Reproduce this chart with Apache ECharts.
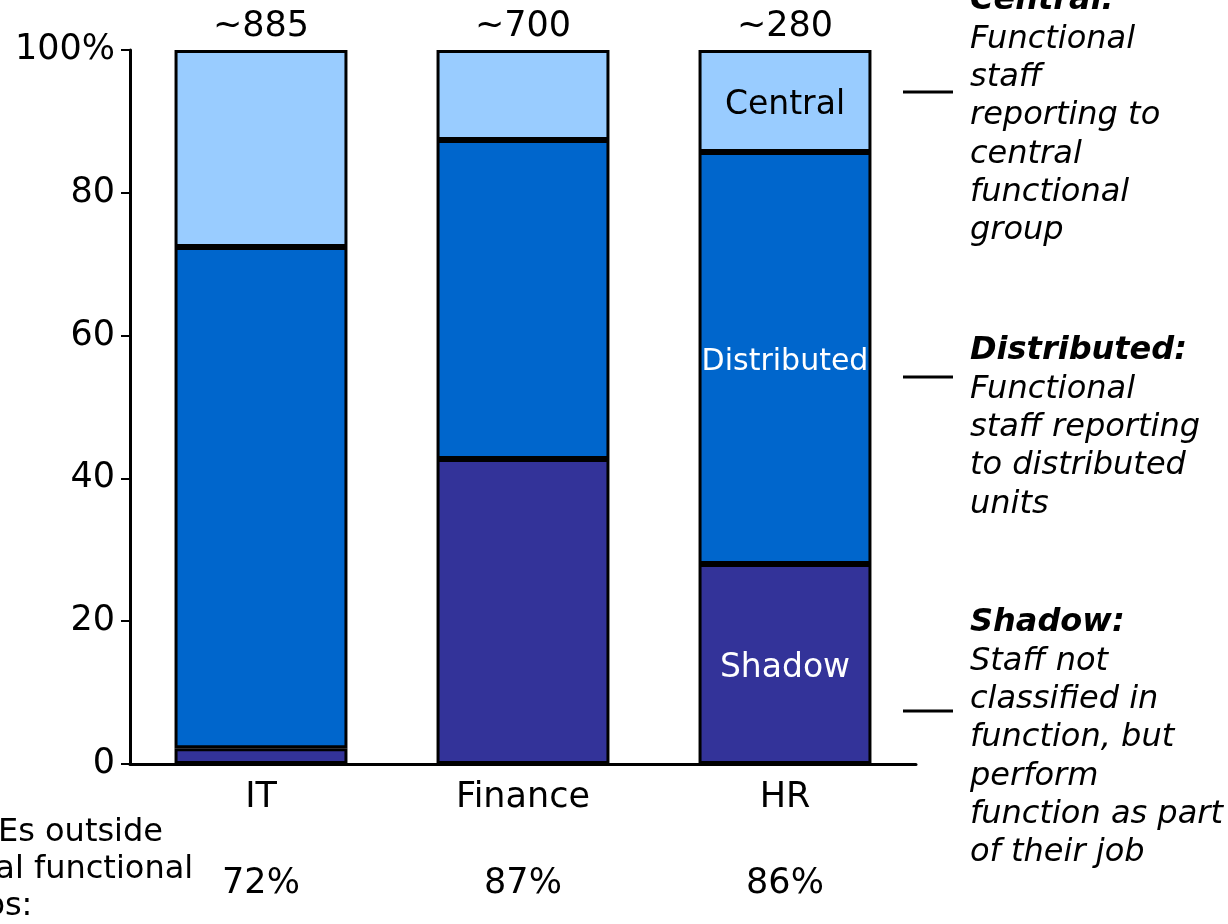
<!DOCTYPE html>
<html>
<head>
<meta charset="utf-8">
<script src="https://cdn.jsdelivr.net/npm/echarts@6/dist/echarts.min.js"></script>
<style>
  html, body { margin: 0; padding: 0; background: #fff; }
  #chart { width: 1228px; height: 924px; }
</style>
</head>
<body>
<div id="chart"></div>
<script>
// Functions and the share of staff in each reporting model (percent of FTEs)
const categories = ['IT', 'Finance', 'HR'];
const shadow      = [2.2, 42.7, 28.0];
const distributed = [70.2, 44.7, 57.7];
const central     = [27.6, 12.6, 14.3];

// Headcount above each bar and share outside central groups below it
const totals       = ['~885', '~700', '~280'];
const outsideShare = ['72%', '87%', '86%'];
const outsideTitle = ['% FTEs outside', 'central functional', 'groups:'];

const yTicks = { min: 0, max: 100, interval: 20 };

// Right-hand definitions of each segment
const notes = [
  { head: 'Central:', body: ['Functional', 'staff', 'reporting to', 'central', 'functional', 'group'] },
  { head: 'Distributed:', body: ['Functional', 'staff reporting', 'to distributed', 'units'] },
  { head: 'Shadow:', body: ['Staff not', 'classified in', 'function, but', 'perform', 'function as part', 'of their job'] }
];

const FONT = '"DejaVu Sans", Verdana, sans-serif';
const labelledBar = 2;   // segment names are written inside the HR bar

const chart = echarts.init(document.getElementById('chart'), null, { renderer: 'canvas' });

function segment(name, values, color, textColor, size) {
  return {
    name: name,
    type: 'bar',
    stack: 'total',
    data: values,
    barCategoryGap: '34%',
    itemStyle: { color: color, borderColor: '#000', borderWidth: 3 },
    label: {
      show: true,
      position: 'inside',
      offset: [0, 4],
      color: textColor,
      fontFamily: FONT,
      fontSize: size,
      formatter: p => (p.dataIndex === labelledBar ? p.seriesName : '')
    },
    emphasis: { disabled: true }
  };
}

const option = {
  animation: false,
  backgroundColor: '#fff',
  textStyle: { fontFamily: FONT, color: '#000' },
  grid: { left: 130, right: 312, top: 50, bottom: 160, containLabel: false },
  xAxis: [
    {
      type: 'category',
      data: categories,
      position: 'bottom',
      axisLine: { lineStyle: { color: '#000', width: 3 } },
      axisTick: { show: false },
      axisLabel: { color: '#000', fontFamily: FONT, fontSize: 35, margin: 16 }
    },
    {
      type: 'category',
      data: outsideShare,
      position: 'bottom',
      offset: 94,
      axisLine: { show: false },
      axisTick: { show: false },
      axisLabel: { color: '#000', fontFamily: FONT, fontSize: 35, margin: 8 }
    },
    {
      type: 'category',
      data: totals,
      position: 'top',
      axisLine: { show: false },
      axisTick: { show: false },
      axisLabel: { color: '#000', fontFamily: FONT, fontSize: 35, margin: 6 }
    }
  ],
  yAxis: {
    type: 'value',
    min: yTicks.min,
    max: yTicks.max,
    interval: yTicks.interval,
    splitLine: { show: false },
    axisLine: { show: true, lineStyle: { color: '#000', width: 3 } },
    axisTick: { show: true, length: 9, lineStyle: { color: '#000', width: 2 } },
    axisLabel: {
      color: '#000', fontFamily: FONT, fontSize: 35, margin: 15,
      formatter: v => (v === yTicks.max ? v + '%' : String(v))
    }
  },
  series: [
    segment('Shadow', shadow, '#333399', '#fff', 33),
    segment('Distributed', distributed, '#0066CC', '#fff', 30),
    segment('Central', central, '#99CCFF', '#000', 33)
  ]
};

chart.setOption(option);

// Annotation text on the right, leader lines and the left caption
const LINE_H = 38.3;
const noteHeadY = [1, 351, 623];     // vertical centres of each heading
const leaderY = [92, 377, 711];
const graphics = [];

notes.forEach((n, i) => {
  graphics.push({
    type: 'text', left: 970, top: noteHeadY[i] - LINE_H / 2, silent: true,
    style: {
      text: n.head, fill: '#000',
      font: 'italic bold 32px ' + FONT,
      lineHeight: LINE_H, verticalAlign: 'top'
    }
  });
  graphics.push({
    type: 'text', left: 970, top: noteHeadY[i] + LINE_H / 2, silent: true,
    style: {
      text: n.body.join('\n'), fill: '#000',
      font: 'italic 32px ' + FONT,
      lineHeight: LINE_H, verticalAlign: 'top'
    }
  });
  graphics.push({
    type: 'line', silent: true,
    shape: { x1: 903, y1: leaderY[i], x2: 953, y2: leaderY[i] },
    style: { stroke: '#000', lineWidth: 3 }
  });
});

// Caption to the left of the percentages, partly running off the page edge
const captionLeft = [-80, -88, -88];
outsideTitle.forEach((line, i) => {
  graphics.push({
    type: 'text', left: captionLeft[i], top: 833 + i * 37 - 37 / 2, silent: true,
    style: {
      text: line, fill: '#000',
      font: '32px ' + FONT, lineHeight: 37, verticalAlign: 'top'
    }
  });
});

chart.setOption({ graphic: { elements: graphics } });
</script>
</body>
</html>
